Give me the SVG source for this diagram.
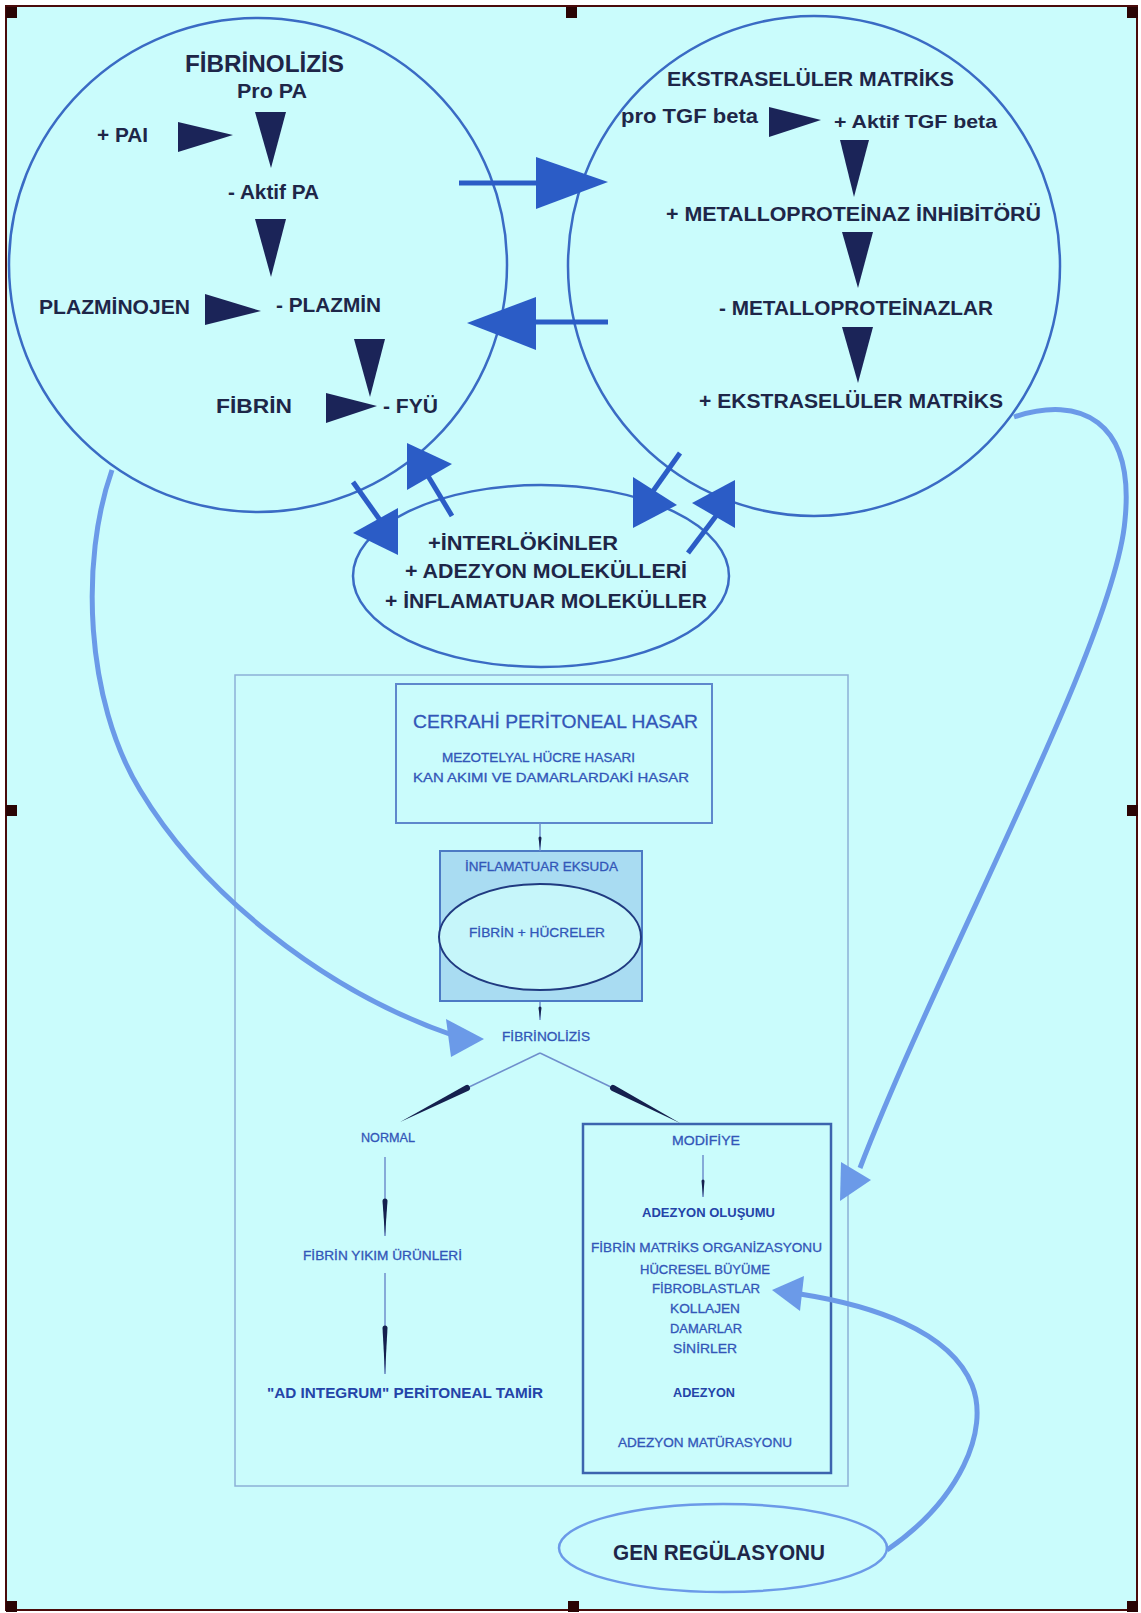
<svg xmlns="http://www.w3.org/2000/svg" width="1141" height="1613" viewBox="0 0 1141 1613">
<style>
.circ{fill:none;stroke:#3a6bc4;stroke-width:2.5}
.tb{font-family:"Liberation Sans",Arial,sans-serif;font-weight:bold;fill:#1e2648}
.tf{font-family:"Liberation Sans",Arial,sans-serif;fill:#3256b8;stroke:#3256b8;stroke-width:0.3}
.tfb{font-family:"Liberation Sans",Arial,sans-serif;font-weight:bold;fill:#2444a8}
.tri{fill:#1b2458}
.barrow{fill:#2b5cc6}
.bline{stroke:#2b5cc6;stroke-width:5;fill:none}
.lcurve{fill:none;stroke:#6b9ae8;stroke-width:5}
.lhead{fill:#6b9ae8}
.thin{stroke:#6f8fcc;stroke-width:1.5;fill:none}
.spin{fill:#15204e}
.handle{fill:#2a0404}
</style>
<rect x="0" y="0" width="1141" height="1613" fill="#ffffff"/>
<rect x="6" y="6" width="1131" height="1604" fill="#cafcfc" stroke="#4a0a0a" stroke-width="2"/>
<g id="handles">
<rect class="handle" x="6" y="7" width="11" height="11"/>
<rect class="handle" x="566" y="7" width="11" height="11"/>
<rect class="handle" x="1127" y="7" width="11" height="11"/>
<rect class="handle" x="6" y="805" width="11" height="11"/>
<rect class="handle" x="1127" y="805" width="11" height="11"/>
<rect class="handle" x="6" y="1601" width="11" height="11"/>
<rect class="handle" x="568" y="1601" width="11" height="11"/>
<rect class="handle" x="1127" y="1601" width="11" height="11"/>
</g>

<g id="node-fibrinolizis">
<ellipse class="circ" cx="258" cy="265" rx="249" ry="247"/>
<text class="tb" x="185" y="72" font-size="24" textLength="159" lengthAdjust="spacingAndGlyphs">FİBRİNOLİZİS</text>
<text class="tb" x="237" y="98" font-size="20" textLength="70" lengthAdjust="spacingAndGlyphs">Pro PA</text>
<text class="tb" x="97" y="142" font-size="20" textLength="51" lengthAdjust="spacingAndGlyphs">+ PAI</text>
<text class="tb" x="228" y="199" font-size="20" textLength="91" lengthAdjust="spacingAndGlyphs">- Aktif PA</text>
<text class="tb" x="39" y="314" font-size="21" textLength="151" lengthAdjust="spacingAndGlyphs">PLAZMİNOJEN</text>
<text class="tb" x="276" y="312" font-size="21" textLength="105" lengthAdjust="spacingAndGlyphs">- PLAZMİN</text>
<text class="tb" x="216" y="413" font-size="21" textLength="76" lengthAdjust="spacingAndGlyphs">FİBRİN</text>
<text class="tb" x="383" y="413" font-size="21" textLength="55" lengthAdjust="spacingAndGlyphs">- FYÜ</text>
</g>

<g id="node-ekstraselular">
<ellipse class="circ" cx="814" cy="266" rx="246" ry="250"/>
<text class="tb" x="667" y="86" font-size="21" textLength="287" lengthAdjust="spacingAndGlyphs">EKSTRASELÜLER MATRİKS</text>
<text class="tb" x="621" y="123" font-size="20" textLength="137" lengthAdjust="spacingAndGlyphs">pro TGF beta</text>
<text class="tb" x="834" y="128" font-size="19" textLength="163" lengthAdjust="spacingAndGlyphs">+ Aktif TGF beta</text>
<text class="tb" x="666" y="221" font-size="21" textLength="375" lengthAdjust="spacingAndGlyphs">+ METALLOPROTEİNAZ İNHİBİTÖRÜ</text>
<text class="tb" x="719" y="315" font-size="21" textLength="274" lengthAdjust="spacingAndGlyphs">- METALLOPROTEİNAZLAR</text>
<text class="tb" x="699" y="408" font-size="21" textLength="304" lengthAdjust="spacingAndGlyphs">+ EKSTRASELÜLER MATRİKS</text>
</g>

<g id="node-interlokinler">
<ellipse class="circ" cx="541" cy="576" rx="188" ry="91"/>
<text class="tb" x="428" y="550" font-size="20" textLength="190" lengthAdjust="spacingAndGlyphs">+İNTERLÖKİNLER</text>
<text class="tb" x="405" y="578" font-size="20" textLength="282" lengthAdjust="spacingAndGlyphs">+ ADEZYON MOLEKÜLLERİ</text>
<text class="tb" x="385" y="608" font-size="20" textLength="322" lengthAdjust="spacingAndGlyphs">+ İNFLAMATUAR MOLEKÜLLER</text>
</g>

<g id="node-flowchart-frame">
<rect x="235" y="675" width="613" height="811" fill="none" stroke="#8cb0d6" stroke-width="1.5"/>
</g>

<g id="node-cerrahi">
<rect x="396" y="684" width="316" height="139" fill="none" stroke="#5e88cc" stroke-width="2"/>
<text class="tf" x="413" y="728" font-size="19" textLength="285" lengthAdjust="spacingAndGlyphs">CERRAHİ PERİTONEAL HASAR</text>
<text class="tf" x="442" y="762" font-size="13" textLength="193" lengthAdjust="spacingAndGlyphs">MEZOTELYAL HÜCRE HASARI</text>
<text class="tf" x="413" y="782" font-size="13" textLength="276" lengthAdjust="spacingAndGlyphs">KAN AKIMI VE DAMARLARDAKİ HASAR</text>
</g>

<g id="node-inflamatuar">
<rect x="440" y="851" width="202" height="150" fill="#a9dcf2" stroke="#4c7ac4" stroke-width="2"/>
<text class="tf" x="465" y="871" font-size="13" textLength="153" lengthAdjust="spacingAndGlyphs">İNFLAMATUAR EKSUDA</text>
<ellipse cx="540" cy="937" rx="101" ry="53" fill="#c6f6fa" stroke="#203a80" stroke-width="2"/>
<text class="tf" x="469" y="937" font-size="13" textLength="136" lengthAdjust="spacingAndGlyphs">FİBRİN + HÜCRELER</text>
</g>

<g id="node-fibrinolizis-small">
<text class="tf" x="502" y="1041" font-size="13" textLength="88" lengthAdjust="spacingAndGlyphs">FİBRİNOLİZİS</text>
</g>

<g id="node-normal">
<text class="tf" x="361" y="1142" font-size="13" textLength="54" lengthAdjust="spacingAndGlyphs">NORMAL</text>
</g>
<g id="node-yikim">
<text class="tf" x="303" y="1260" font-size="13" textLength="159" lengthAdjust="spacingAndGlyphs">FİBRİN YIKIM ÜRÜNLERİ</text>
</g>
<g id="node-adintegrum">
<text class="tfb" x="267" y="1398" font-size="15" textLength="276" lengthAdjust="spacingAndGlyphs">"AD INTEGRUM" PERİTONEAL TAMİR</text>
</g>

<g id="node-modifiye">
<rect x="583" y="1124" width="248" height="349" fill="none" stroke="#3c64ae" stroke-width="2.5"/>
<text class="tf" x="672" y="1145" font-size="13" textLength="68" lengthAdjust="spacingAndGlyphs">MODİFİYE</text>
<text class="tfb" x="642" y="1217" font-size="13" textLength="133" lengthAdjust="spacingAndGlyphs">ADEZYON OLUŞUMU</text>
<text class="tf" x="591" y="1252" font-size="13" textLength="231" lengthAdjust="spacingAndGlyphs">FİBRİN MATRİKS ORGANİZASYONU</text>
<text class="tf" x="640" y="1274" font-size="13" textLength="130" lengthAdjust="spacingAndGlyphs">HÜCRESEL BÜYÜME</text>
<text class="tf" x="652" y="1293" font-size="13" textLength="108" lengthAdjust="spacingAndGlyphs">FİBROBLASTLAR</text>
<text class="tf" x="670" y="1313" font-size="13" textLength="70" lengthAdjust="spacingAndGlyphs">KOLLAJEN</text>
<text class="tf" x="670" y="1333" font-size="13" textLength="72" lengthAdjust="spacingAndGlyphs">DAMARLAR</text>
<text class="tf" x="673" y="1353" font-size="13" textLength="64" lengthAdjust="spacingAndGlyphs">SİNİRLER</text>
<text class="tfb" x="673" y="1397" font-size="13" textLength="62" lengthAdjust="spacingAndGlyphs">ADEZYON</text>
<text class="tf" x="618" y="1447" font-size="13" textLength="174" lengthAdjust="spacingAndGlyphs">ADEZYON MATÜRASYONU</text>
</g>

<g id="node-gen">
<ellipse cx="723" cy="1548" rx="164" ry="44" fill="none" stroke="#6b9ae8" stroke-width="2.5"/>
<text class="tb" x="613" y="1560" font-size="22" textLength="212" lengthAdjust="spacingAndGlyphs">GEN REGÜLASYONU</text>
</g>

<g id="connectors">
<polygon class="tri" points="178,122 233,135 178,152"/>
<polygon class="tri" points="255,112 286,112 271,168"/>
<polygon class="tri" points="255,219 286,219 271,277"/>
<polygon class="tri" points="205,294 261,311 205,325"/>
<polygon class="tri" points="354,339 385,339 370,397"/>
<polygon class="tri" points="326,393 377,406 326,423"/>
<polygon class="tri" points="769,107 821,120 769,137"/>
<polygon class="tri" points="840,140 869,140 854,197"/>
<polygon class="tri" points="842,232 873,232 858,288"/>
<polygon class="tri" points="842,327 873,327 858,383"/>
<line class="bline" x1="459" y1="183" x2="540" y2="183"/>
<polygon class="barrow" points="536,157 608,182 536,209"/>
<line class="bline" x1="532" y1="322" x2="608" y2="322"/>
<polygon class="barrow" points="536,297 467,323 536,350"/>
<line class="bline" x1="353" y1="482" x2="380" y2="520"/>
<polygon class="barrow" points="353,533 398,508 398,555"/>
<line class="bline" x1="452" y1="516" x2="428" y2="476"/>
<polygon class="barrow" points="407,443 452,464 407,490"/>
<line class="bline" x1="680" y1="453" x2="651" y2="494"/>
<polygon class="barrow" points="633,477 677,505 633,528"/>
<line class="bline" x1="688" y1="553" x2="719" y2="512"/>
<polygon class="barrow" points="692,503 735,480 735,528"/>
<path class="lcurve" d="M112,470 C80,560 85,700 140,790 C200,890 320,990 455,1036"/>
<polygon class="lhead" points="446,1019 484,1039 451,1057"/>
<path class="lcurve" d="M1014,417 C1080,395 1135,420 1125,520 C1115,640 940,960 860,1168"/>
<polygon class="lhead" points="840,1201 871,1180 841,1162"/>
<path class="lcurve" d="M887,1550 C960,1500 990,1430 972,1385 C950,1330 870,1305 800,1294"/>
<polygon class="lhead" points="772,1290 804,1276 800,1311"/>
<line class="thin" x1="540" y1="823" x2="540" y2="851"/>
<path class="spin" d="M538.5,838 a1.5,1.5 0 0 1 3,0 L540,849 Z"/>
<line class="thin" x1="540" y1="1002" x2="540" y2="1020"/>
<path class="spin" d="M538.5,1008 a1.5,1.5 0 0 1 3,0 L540,1019 Z"/>
<line class="thin" x1="540" y1="1053" x2="467" y2="1088"/>
<path class="spin" transform="translate(467,1088) rotate(153.1)" d="M0,-3 A3,3 0 0 0 0,3 L75,0 Z"/>
<line class="thin" x1="540" y1="1053" x2="613" y2="1088"/>
<path class="spin" transform="translate(613,1088) rotate(27.6)" d="M0,-3 A3,3 0 0 0 0,3 L76,0 Z"/>
<line class="thin" x1="385" y1="1157" x2="385" y2="1236"/>
<path class="spin" d="M382.5,1201 a2.5,2.5 0 0 1 5,0 L385,1236 Z"/>
<line class="thin" x1="385" y1="1273" x2="385" y2="1374"/>
<path class="spin" d="M382.5,1328 a2.5,2.5 0 0 1 5,0 L385,1374 Z"/>
<line class="thin" x1="703" y1="1155" x2="703" y2="1197"/>
<path class="spin" d="M701.5,1181 a1.5,1.5 0 0 1 3,0 L703,1197 Z"/>
</g>
</svg>
